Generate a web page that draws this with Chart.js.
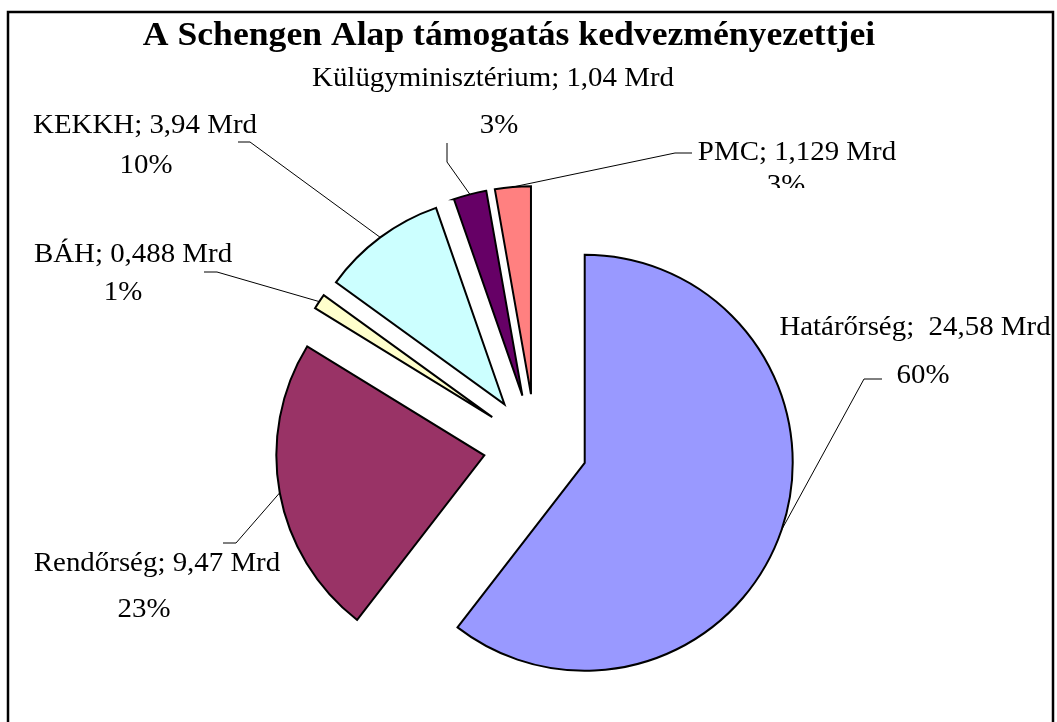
<!DOCTYPE html>
<html>
<head>
<meta charset="utf-8">
<script src="https://cdn.jsdelivr.net/npm/chart.js@4.4.1/dist/chart.umd.min.js"></script>
<style>
    html, body { margin: 0; padding: 0; background: #fff; }
    canvas { display: block; }
</style>
</head>
<body>
<canvas id="pieChart" width="1057" height="722"></canvas>
<script>
// Schengen Alap támogatás (Mrd Ft)
const categories = ['Határőrség', 'Rendőrség', 'BÁH', 'KEKKH', 'Külügyminisztérium', 'PMC'];
const values = [24.58, 9.47, 0.488, 3.94, 1.04, 1.129];
const colors = ['#9999FF', '#993366', '#FFFFCC', '#CCFFFF', '#660066', '#FF8080'];

const titleText = 'A Schengen Alap támogatás kedvezményezettjei';
const total = values.reduce((a, b) => a + b, 0);
const explode = 52;

// where each label sits and where its leader line bends
const labelLayout = [
    { sep: ';  ', line1: [915, 335], line2: [923, 383], leader: [[882, 379], [864, 379]] },
    { sep: '; ', line1: [157, 571], line2: [144, 617], leader: [[223, 543], [236, 543]] },
    { sep: '; ', line1: [133, 262], line2: [123, 300], leader: [[204, 272], [217, 272]] },
    { sep: '; ', line1: [145, 133], line2: [146, 173], leader: [[238, 142], [250, 142]] },
    { sep: '; ', line1: [493, 86], line2: [499, 133], leader: [[447, 143], [447, 162]] },
    { sep: '; ', line1: [797, 160], line2: [786, 193], clip2: 188, leader: [[692, 153], [675, 153]] }
];

function drawText(ctx, text, x, y, font, sx) {
    ctx.save();
    ctx.translate(x, y);
    ctx.scale(sx, 1);
    ctx.font = font;
    ctx.textAlign = 'center';
    ctx.textBaseline = 'alphabetic';
    ctx.fillStyle = '#000';
    ctx.fillText(text, 0, 0);
    ctx.restore();
}

// pull every slice out of the centre by the same distance (Excel style explode)
const explodePie = {
    id: 'explodePie',
    afterDatasetUpdate(chart, args) {
        const area = chart.chartArea;
        const cx = (area.left + area.right) / 2;
        const cy = (area.top + area.bottom) / 2;
        args.meta.data.forEach(el => {
            const mid = (el.startAngle + el.endAngle) / 2;
            el.x = cx + Math.cos(mid) * explode;
            el.y = cy + Math.sin(mid) * explode;
        });
    }
};

const frame = {
    id: 'frame',
    beforeDraw(chart) {
        const ctx = chart.ctx;
        ctx.save();
        ctx.fillStyle = '#fff';
        ctx.fillRect(0, 0, chart.width, chart.height);
        ctx.strokeStyle = '#000';
        ctx.lineWidth = 2.5;
        ctx.strokeRect(8, 12, 1045, 800);
        ctx.restore();
        drawText(ctx, titleText, 509, 45, 'bold 34px "Liberation Serif", "Times New Roman", serif', 1.048);
    }
};

const pieLabels = {
    id: 'pieLabels',
    afterDatasetsDraw(chart) {
        const ctx = chart.ctx;
        const arcs = chart.getDatasetMeta(0).data;
        const font = '27px "Liberation Serif", "Times New Roman", serif';
        arcs.forEach((el, i) => {
            const lay = labelLayout[i];
            const mid = (el.startAngle + el.endAngle) / 2;
            const ax = el.x + Math.cos(mid) * el.outerRadius;
            const ay = el.y + Math.sin(mid) * el.outerRadius;

            ctx.save();
            ctx.strokeStyle = '#000';
            ctx.lineWidth = 1;
            ctx.beginPath();
            ctx.moveTo(lay.leader[0][0], lay.leader[0][1]);
            ctx.lineTo(lay.leader[1][0], lay.leader[1][1]);
            ctx.lineTo(ax, ay);
            ctx.stroke();
            ctx.restore();

            const valueText = String(values[i]).replace('.', ',') + ' Mrd';
            const pct = Math.round(values[i] / total * 100) + '%';
            drawText(ctx, categories[i] + lay.sep + valueText, lay.line1[0], lay.line1[1], font, 1.07);

            ctx.save();
            if (lay.clip2) {
                ctx.beginPath();
                ctx.rect(0, 0, chart.width, lay.clip2);
                ctx.clip();
            }
            drawText(ctx, pct, lay.line2[0], lay.line2[1], font, 1.07);
            ctx.restore();
        });
    }
};

new Chart(document.getElementById('pieChart').getContext('2d'), {
    type: 'pie',
    data: {
        labels: categories,
        datasets: [{
            data: values,
            backgroundColor: colors,
            borderColor: '#000',
            borderWidth: 2,
            borderJoinStyle: 'miter',
            clip: false,
            hoverOffset: 0
        }]
    },
    options: {
        responsive: false,
        animation: false,
        events: [],
        radius: 208,
        layout: { padding: { left: 14, right: 0, top: 170, bottom: 0 } },
        plugins: {
            legend: { display: false },
            tooltip: { enabled: false },
            title: { display: false }
        }
    },
    plugins: [explodePie, frame, pieLabels]
});
</script>
</body>
</html>
